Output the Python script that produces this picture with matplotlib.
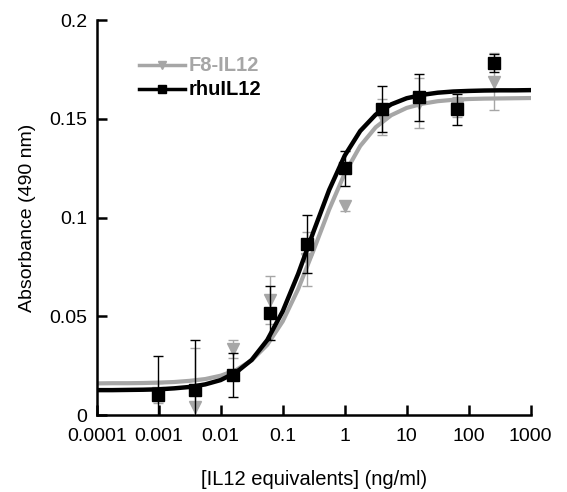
import matplotlib
matplotlib.use('Agg')
import matplotlib.pyplot as plt
import numpy as np

plt.rcParams['font.family'] = ['Liberation Sans', 'DejaVu Sans']

# 4-fold dilution series (ng/ml)
dose = [0.000977, 0.0039, 0.0156, 0.0625, 0.25, 1, 4, 16, 64, 256]

rhu_mean = [0.0101, 0.0127, 0.0203, 0.0518, 0.0866, 0.1249, 0.1550, 0.1608, 0.1548, 0.1784]
rhu_err = [0.0200, 0.0255, 0.0110, 0.0137, 0.0145, 0.0090, 0.0115, 0.0120, 0.0078, 0.0045]

f8_mean = [0.0110, 0.0040, 0.0335, 0.0583, 0.0790, 0.1058, 0.1510, 0.1580, 0.1560, 0.1688]
f8_err = [0.0050, 0.0300, 0.0045, 0.0120, 0.0135, 0.0025, 0.0090, 0.0125, 0.0050, 0.0144]

# fitted curves, read every quarter decade from 1e-4 to 1e3
fit_logx = [-4 + 0.25 * i for i in range(29)]
rhu_fit = [0.0126, 0.0126, 0.0127, 0.0128, 0.0130, 0.0135, 0.0142, 0.0155, 0.0177,
           0.0216, 0.0279, 0.0379, 0.0525, 0.0715, 0.0931, 0.1140, 0.1313, 0.1438,
           0.1521, 0.1573, 0.1604, 0.1621, 0.1632, 0.1638, 0.1641, 0.1643, 0.1644,
           0.1644, 0.1645]
f8_fit = [0.0160, 0.0161, 0.0161, 0.0162, 0.0164, 0.0167, 0.0173, 0.0182, 0.0199,
          0.0228, 0.0277, 0.0355, 0.0474, 0.0638, 0.0836, 0.1041, 0.1223, 0.1362,
          0.1457, 0.1518, 0.1555, 0.1576, 0.1589, 0.1596, 0.1600, 0.1602, 0.1603,
          0.1604, 0.1605]

xticks = [0.0001, 0.001, 0.01, 0.1, 1, 10, 100, 1000]
xticklabels = ['0.0001', '0.001', '0.01', '0.1', '1', '10', '100', '1000']
yticks = [0, 0.05, 0.1, 0.15, 0.2]
yticklabels = ['0', '0.05', '0.1', '0.15', '0.2']

gray = '#a6a6a6'

fig = plt.figure(figsize=(5.67, 4.92), dpi=100)
ax = fig.add_axes([0.1705, 0.1565, 0.7655, 0.8028])

fit_x = [10 ** v for v in fit_logx]
ax.plot(fit_x, f8_fit, color=gray, lw=3.0, zorder=2)
ax.errorbar(dose, f8_mean, yerr=f8_err, fmt='none', ecolor=gray, elinewidth=1.0,
            capsize=3.5, capthick=1.0, zorder=3)
ax.plot(dose, f8_mean, 'v', color=gray, ms=8, zorder=3)

ax.plot(fit_x, rhu_fit, color='black', lw=3.2, zorder=4)
ax.errorbar(dose, rhu_mean, yerr=rhu_err, fmt='none', ecolor='black', elinewidth=1.0,
            capsize=3.5, capthick=1.0, zorder=5)
ax.plot(dose, rhu_mean, 's', color='black', ms=8, zorder=6)

ax.set_xscale('log')
ax.set_xlim(0.0001, 1000)
ax.set_ylim(0, 0.2)
ax.set_xticks(xticks)
ax.set_xticklabels(xticklabels)
ax.minorticks_off()
ax.set_yticks(yticks)
ax.set_yticklabels(yticklabels)

for s in ['top', 'right']:
    ax.spines[s].set_visible(False)
for s in ['left', 'bottom']:
    ax.spines[s].set_linewidth(1.8)
ax.tick_params(direction='in', length=7, width=1.8, labelsize=14, pad=9)
ax.tick_params(axis='y', pad=7)

ax.set_xlabel('[IL12 equivalents] (ng/ml)', fontsize=14.5, labelpad=18)
ax.set_ylabel('Absorbance (490 nm)', fontsize=14, labelpad=9)

# legend drawn by hand in axes coordinates
ax.plot([0.097, 0.203], [0.886, 0.886], transform=ax.transAxes, color=gray, lw=2.5, clip_on=False)
ax.plot([0.15], [0.886], 'v', transform=ax.transAxes, color=gray, ms=6, clip_on=False)
ax.text(0.213, 0.886, 'F8-IL12', transform=ax.transAxes, color=gray, fontsize=14.5,
        fontweight='bold', va='center')
ax.plot([0.097, 0.203], [0.825, 0.825], transform=ax.transAxes, color='black', lw=2.5, clip_on=False)
ax.plot([0.15], [0.825], 's', transform=ax.transAxes, color='black', ms=6, clip_on=False)
ax.text(0.213, 0.825, 'rhuIL12', transform=ax.transAxes, color='black', fontsize=14.5,
        fontweight='bold', va='center')

fig.savefig('out.png', dpi=100)
